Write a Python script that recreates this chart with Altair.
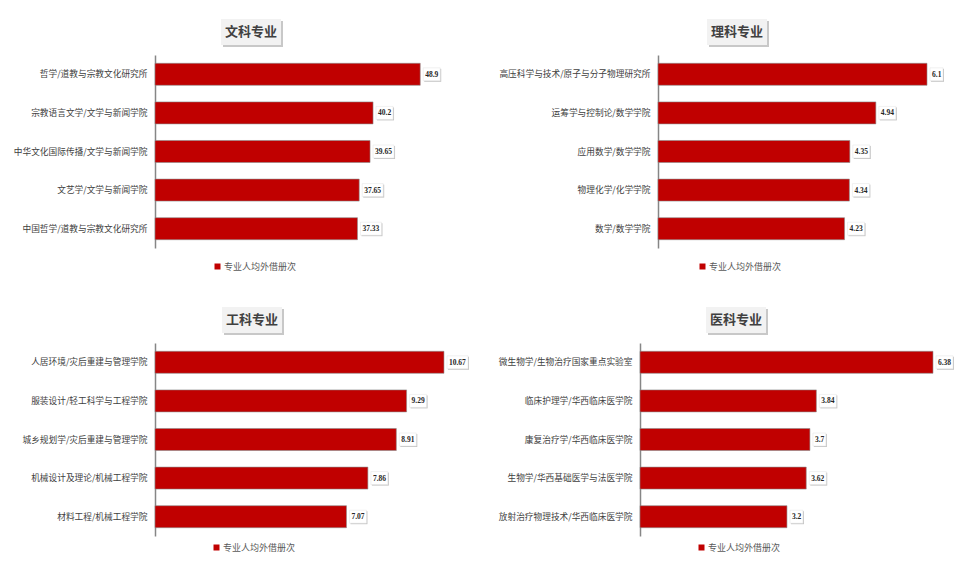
import altair as alt
import pandas as pd

SERIES = "专业人均外借册次"

titles = ["文科专业", "理科专业", "工科专业", "医科专业"]

cats_wen = ["哲学/道教与宗教文化研究所", "宗教语言文学/文学与新闻学院", "中华文化国际传播/文学与新闻学院",
            "文艺学/文学与新闻学院", "中国哲学/道教与宗教文化研究所"]
vals_wen = [48.9, 40.2, 39.65, 37.65, 37.33]
labels_wen = ["48.9", "40.2", "39.65", "37.65", "37.33"]

cats_li = ["高压科学与技术/原子与分子物理研究所", "运筹学与控制论/数学学院", "应用数学/数学学院",
           "物理化学/化学学院", "数学/数学学院"]
vals_li = [6.1, 4.94, 4.35, 4.34, 4.23]
labels_li = ["6.1", "4.94", "4.35", "4.34", "4.23"]

cats_gong = ["人居环境/灾后重建与管理学院", "服装设计/轻工科学与工程学院", "城乡规划学/灾后重建与管理学院",
             "机械设计及理论/机械工程学院", "材料工程/机械工程学院"]
vals_gong = [10.67, 9.29, 8.91, 7.86, 7.07]
labels_gong = ["10.67", "9.29", "8.91", "7.86", "7.07"]

cats_yi = ["微生物学/生物治疗国家重点实验室", "临床护理学/华西临床医学院", "康复治疗学/华西临床医学院",
           "生物学/华西基础医学与法医学院", "放射治疗物理技术/华西临床医学院"]
vals_yi = [6.38, 3.84, 3.7, 3.62, 3.2]
labels_yi = ["6.38", "3.84", "3.7", "3.62", "3.2"]

RED = "#C00000"
CJK = "Noto Sans CJK SC"


def panel(title, cats, vals, labels, width, dmax, title_x, leg_x, leg_y, height=193):
    df = pd.DataFrame({"cat": cats, "value": vals, "label": labels, "series": [SERIES] * len(cats)})
    base = alt.Chart(df).transform_calculate(
        box="'M3,-6.5H' + (4 + 4*length(datum.label)) + 'V6.5H3Z'",
        shadow="'M4,-5.5H' + (5 + 4*length(datum.label)) + 'V7.5H4Z'",
    )
    y = alt.Y("cat:N", sort=cats,
              scale=alt.Scale(paddingInner=0.43, paddingOuter=0.215),
              axis=alt.Axis(title=None, ticks=False, labelPadding=8, labelFontSize=8.7,
                            labelFont=CJK, labelColor="#404040", labelLimit=0,
                            domainColor="#868686", domainWidth=1.5, grid=False))
    x = alt.X("value:Q", scale=alt.Scale(domain=[0, dmax], nice=False, zero=True), axis=None)
    bars = base.mark_bar(stroke="#8c8c8c", strokeWidth=0.6).encode(
        y=y, x=x,
        color=alt.Color("series:N", scale=alt.Scale(range=[RED]),
                        legend=alt.Legend(title=None, orient="none", legendX=leg_x, legendY=leg_y,
                                          symbolType="square", symbolSize=36, symbolStrokeWidth=0,
                                          labelFont=CJK, labelFontSize=9, labelColor="#595959",
                                          labelOffset=2)),
    )
    shadow = base.mark_point(filled=True, size=4, opacity=1, color="#c4c4c4").encode(
        y=y, x=x, shape=alt.Shape("shadow:N", scale=None, legend=None))
    box = base.mark_point(filled=True, size=4, opacity=1, color="#ffffff",
                          stroke="#e2e2e2", strokeWidth=0.5).encode(
        y=y, x=x, shape=alt.Shape("box:N", scale=None, legend=None))
    text = base.mark_text(align="left", baseline="middle", dx=5, dy=0.5, font="Liberation Serif",
                          fontWeight="bold", fontSize=7.5, color="#262626").encode(
        y=y, x=x, text="label:N")

    tdf = pd.DataFrame({"t": [title]})
    tshadow = alt.Chart(tdf).mark_rect(color="#c8c8c8").encode(
        x=alt.value(title_x - 28), x2=alt.value(title_x + 32),
        y=alt.value(-34), y2=alt.value(-8))
    tbox = alt.Chart(tdf).mark_rect(color="#f2f2f2").encode(
        x=alt.value(title_x - 30), x2=alt.value(title_x + 30),
        y=alt.value(-36), y2=alt.value(-10))
    ttext = alt.Chart(tdf).mark_text(font=CJK, fontWeight="bold", fontSize=13, color="#404040",
                                     align="center", baseline="middle").encode(
        x=alt.value(title_x), y=alt.value(-23), text="t:N")

    return alt.layer(bars, shadow, box, text, tshadow, tbox, ttext).properties(
        width=width, height=height)


p1 = panel(titles[0], cats_wen, vals_wen, labels_wen, 320, 59.0, 96, 58, 207)
p2 = panel(titles[1], cats_li, vals_li, labels_li, 290, 6.576, 79, 40, 207)
p3 = panel(titles[2], cats_gong, vals_gong, labels_gong, 325, 12.0, 97, 57, 200)
p4 = panel(titles[3], cats_yi, vals_yi, labels_yi, 312, 6.794, 96, 57, 200)

row1 = alt.hconcat(p1, p2, spacing=23).resolve_scale(color="independent", x="independent", y="independent")
row2 = alt.hconcat(p3, p4, spacing=18).resolve_scale(color="independent", x="independent", y="independent")

chart = alt.vconcat(row1, row2, spacing=35).properties(
    padding={"left": 5, "top": 11, "right": 0, "bottom": 0},
    background="white",
).configure_view(strokeWidth=0, stroke="transparent")

chart.save("out.html", embed_options={"renderer": "svg", "actions": False})
